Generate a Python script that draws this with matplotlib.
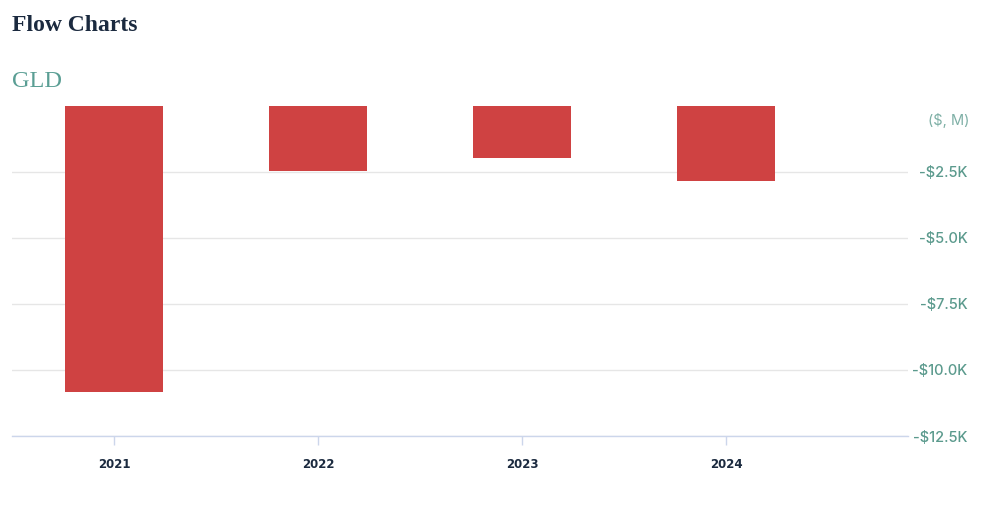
import matplotlib
matplotlib.use('Agg')
from matplotlib import pyplot as plt
import numpy as np

# GLD yearly flows, $ millions
years = ['2021', '2022', '2023', '2024']
flows = [-10830, -2460, -1960, -2840]
yticks = [-2500, -5000, -7500, -10000, -12500]
ytick_labels = ['-$2.5K', '-$5.0K', '-$7.5K', '-$10.0K', '-$12.5K']

bar_color = '#cf4242'
label_color = '#5b9a8d'
navy = '#1b2a3f'

fig = plt.figure(figsize=(10, 5.26), dpi=100)
ax = fig.add_axes([0.012, 0.1711, 0.896, 0.6274])

x = np.arange(len(years))
ax.bar(x, flows, width=0.48, color=bar_color, zorder=2)

ax.set_xlim(-0.5, 3.89)
ax.set_ylim(-12500, 0)

ax.set_yticks(yticks)
ax.set_yticklabels(ytick_labels)
ax.yaxis.tick_right()
ax.tick_params(axis='y', length=0, pad=43, labelsize=10.5, labelcolor=label_color)
for lab in ax.get_yticklabels():
    lab.set_horizontalalignment('right')
    lab.set_family('Inter')
    lab.set_fontweight('medium')
ax.grid(axis='y', color='#e6e6e6', linewidth=1, zorder=0)

ax.set_xticks(x)
ax.set_xticklabels(years, fontweight='bold')
ax.tick_params(axis='x', length=6.5, width=1, color='#ccd6eb', pad=9,
               labelsize=8.5, labelcolor=navy)

for s in ['top', 'left', 'right']:
    ax.spines[s].set_visible(False)
ax.spines['bottom'].set_color('#ccd6eb')
ax.spines['bottom'].set_linewidth(1)

fig.text(0.012, 0.952, 'Flow Charts', family='Liberation Serif', fontweight='bold',
         fontsize=17, color=navy, ha='left', va='center')
fig.text(0.012, 0.845, 'GLD', family='Liberation Serif', fontsize=17.5,
         color='#5a9e94', ha='left', va='center')
fig.text(0.970, 0.77, '($, M)', family='Inter', fontsize=10.5, color='#7fb0a6',
         ha='right', va='center')

plt.savefig('out.png', dpi=100)
